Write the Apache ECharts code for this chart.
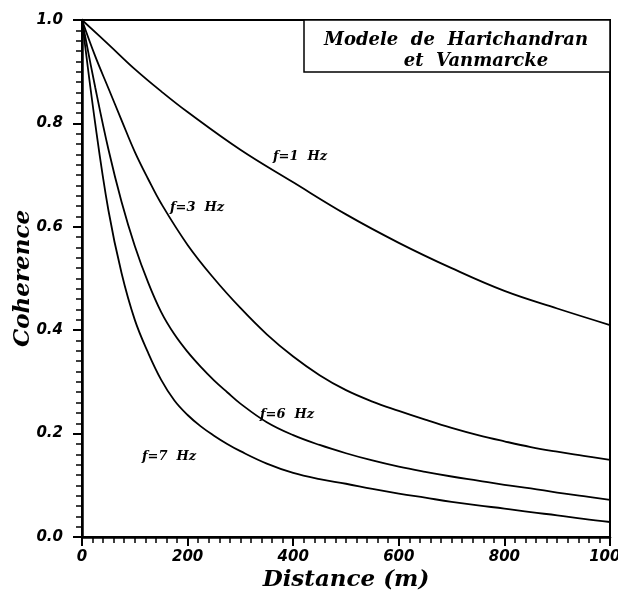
<!DOCTYPE html>
<html>
<head>
<meta charset="utf-8">
<script src="https://cdn.jsdelivr.net/npm/echarts@6/dist/echarts.min.js"></script>
<style>
  html, body { margin: 0; padding: 0; background: #fff; }
  #chart { width: 618px; height: 592px; }
</style>
</head>
<body>
<div id="chart"></div>
<script>
// Coherence versus separation distance, Harichandran & Vanmarcke model
const xTicks = [0, 200, 400, 600, 800, 1000];
const yTicks = [0.0, 0.2, 0.4, 0.6, 0.8, 1.0];

// distance (m) / coherence pairs for each frequency
const f1Dist = [0, 50, 100, 150, 200, 300, 400, 500, 600, 700, 800, 900, 1000];
const f1Coh  = [1.0, 0.953, 0.905, 0.862, 0.822, 0.749, 0.686, 0.624, 0.569, 0.520, 0.476, 0.442, 0.410];

const f3Dist = [0, 25, 50, 75, 100, 125, 150, 200, 250, 300, 350, 400, 450, 500, 550, 600, 650, 700, 750, 800, 850, 900, 950, 1000];
const f3Coh  = [1.0, 0.930, 0.868, 0.806, 0.745, 0.693, 0.645, 0.565, 0.500, 0.443, 0.392, 0.349, 0.313, 0.284, 0.262, 0.244, 0.227, 0.211, 0.197, 0.185, 0.174, 0.165, 0.157, 0.149];

const f6Dist = [0, 25, 50, 75, 100, 125, 150, 175, 200, 225, 250, 275, 300, 350, 400, 450, 500, 550, 600, 650, 700, 750, 800, 850, 900, 950, 1000];
const f6Coh  = [1.0, 0.870, 0.750, 0.648, 0.563, 0.493, 0.435, 0.392, 0.358, 0.329, 0.303, 0.280, 0.258, 0.222, 0.197, 0.178, 0.162, 0.148, 0.136, 0.126, 0.117, 0.109, 0.101, 0.094, 0.086, 0.079, 0.072];

const f7Dist = [0, 25, 50, 75, 100, 125, 150, 175, 200, 225, 250, 275, 300, 350, 400, 450, 500, 550, 600, 650, 700, 750, 800, 850, 900, 950, 1000];
const f7Coh  = [1.0, 0.800, 0.632, 0.510, 0.420, 0.357, 0.304, 0.264, 0.236, 0.214, 0.196, 0.180, 0.166, 0.142, 0.124, 0.112, 0.103, 0.093, 0.084, 0.076, 0.068, 0.061, 0.055, 0.048, 0.042, 0.035, 0.029];

const curveNames = ['f=1  Hz', 'f=3  Hz', 'f=6  Hz', 'f=7  Hz'];
const boxLines = ['Modele  de  Harichandran', 'et  Vanmarcke'];

const pairs = (xs, ys) => xs.map((x, i) => [x, ys[i]]);

const tickFont = { fontFamily: 'DejaVu Sans', fontWeight: 'bold', fontStyle: 'italic', fontSize: 15, color: '#000' };
const nameFont = { fontFamily: 'DejaVu Serif', fontWeight: 'bold', fontStyle: 'italic', fontSize: 23, color: '#000' };
const labelFont = 'italic bold 13px "DejaVu Serif"';
const boxFont = 'italic bold 18px "DejaVu Serif"';

function curve(name, xs, ys) {
  return {
    name: name,
    type: 'line',
    data: pairs(xs, ys),
    showSymbol: false,
    smooth: 0.4,
    lineStyle: { color: '#000', width: 1.8 },
    silent: true
  };
}

const chart = echarts.init(document.getElementById('chart'), null, { renderer: 'canvas' });
chart.setOption({
  animation: false,
  backgroundColor: '#fff',
  grid: {
    left: 82, right: 8, top: 20, bottom: 55,
    outerBoundsMode: 'none', containLabel: false,
    show: true, borderColor: '#000', borderWidth: 2, backgroundColor: 'transparent'
  },
  xAxis: {
    type: 'value',
    min: xTicks[0], max: xTicks[xTicks.length - 1], interval: 200,
    name: 'Distance (m)', nameLocation: 'middle', nameGap: 32, nameMoveOverlap: false, nameTextStyle: nameFont,
    axisLine: { show: true, lineStyle: { color: '#000', width: 2.5 } },
    axisTick: { show: true, inside: false, length: 9, lineStyle: { color: '#000', width: 2 } },
    minorTick: { show: true, splitNumber: 10, length: 6, lineStyle: { color: '#000', width: 1.5 } },
    splitLine: { show: false },
    axisLabel: Object.assign({ margin: 13, showMaxLabel: true, showMinLabel: true, formatter: v => String(v) }, tickFont)
  },
  yAxis: {
    type: 'value',
    min: yTicks[0], max: yTicks[yTicks.length - 1], interval: 0.2,
    name: 'Coherence', nameLocation: 'middle', nameGap: 47, nameMoveOverlap: false, nameTextStyle: nameFont,
    axisLine: { show: true, lineStyle: { color: '#000', width: 2.5 } },
    axisTick: { show: true, inside: false, length: 9, lineStyle: { color: '#000', width: 2 } },
    minorTick: { show: true, splitNumber: 10, length: 6, lineStyle: { color: '#000', width: 1.5 } },
    splitLine: { show: false },
    axisLabel: Object.assign({ margin: 19, formatter: v => v.toFixed(1) }, tickFont)
  },
  series: [
    curve(curveNames[0], f1Dist, f1Coh),
    curve(curveNames[1], f3Dist, f3Coh),
    curve(curveNames[2], f6Dist, f6Coh),
    curve(curveNames[3], f7Dist, f7Coh)
  ],
  graphic: [
    { type: 'rect', shape: { x: 304, y: 20, width: 306, height: 52 }, style: { fill: '#fff', stroke: '#000', lineWidth: 1.5 }, z: 10 },
    { type: 'text', x: 456, y: 40, style: { text: boxLines[0], font: boxFont, fill: '#000', align: 'center', verticalAlign: 'middle' }, z: 11 },
    { type: 'text', x: 476, y: 61, style: { text: boxLines[1], font: boxFont, fill: '#000', align: 'center', verticalAlign: 'middle' }, z: 11 },
    { type: 'text', x: 273, y: 157, style: { text: curveNames[0], font: labelFont, fill: '#000', verticalAlign: 'middle' }, z: 11 },
    { type: 'text', x: 170, y: 208, style: { text: curveNames[1], font: labelFont, fill: '#000', verticalAlign: 'middle' }, z: 11 },
    { type: 'text', x: 260, y: 415, style: { text: curveNames[2], font: labelFont, fill: '#000', verticalAlign: 'middle' }, z: 11 },
    { type: 'text', x: 142, y: 457, style: { text: curveNames[3], font: labelFont, fill: '#000', verticalAlign: 'middle' }, z: 11 }
  ]
});
</script>
</body>
</html>
